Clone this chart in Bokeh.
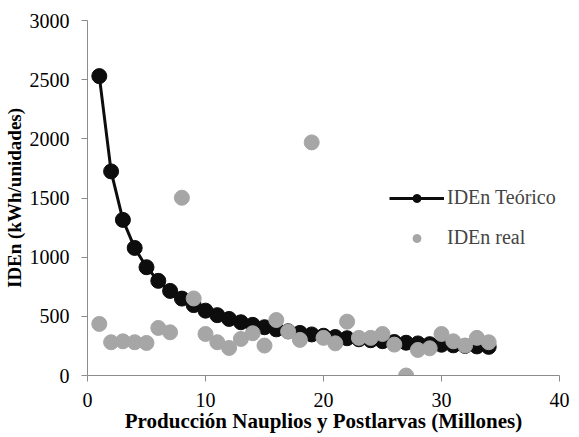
from bokeh.plotting import figure
from bokeh.models import Legend, LegendItem, Range1d, FixedTicker
from bokeh.embed import file_html
from bokeh.resources import INLINE

x_prod = list(range(1, 35))
iden_teorico = [2530, 1725, 1315, 1078, 915, 800, 715, 650, 595, 548,
                510, 478, 450, 428, 408, 390, 374, 360, 347, 336,
                325, 315, 306, 298, 290, 283, 277, 271, 265, 260,
                255, 250, 246, 242]
iden_real = [436, 281, 289, 281, 275, 402, 365, 1502, 651, 351,
             281, 233, 309, 357, 253, 469, 371, 301, 1970, 318,
             272, 455, 318, 318, 351, 261, 0, 216, 230, 351,
             289, 253, 318, 281]
x_ticks = [0, 10, 20, 30, 40]
y_ticks = [0, 500, 1000, 1500, 2000, 2500, 3000]

FONT = "Liberation Serif"
AXIS_COLOR = "#8c8c8c"

p = figure(width=571, height=437, output_backend="svg", toolbar_location=None,
           x_range=Range1d(0, 40), y_range=Range1d(0, 3000),
           min_border_left=82, min_border_right=12, min_border_top=20, min_border_bottom=62)
p.outline_line_color = None
p.xgrid.visible = False
p.ygrid.visible = False

l1 = p.line(x_prod, iden_teorico, line_color="#0d0d0d", line_width=3)
s1 = p.scatter(x_prod, iden_teorico, size=15, fill_color="#0d0d0d", line_color="#0d0d0d")
s2 = p.scatter(x_prod, iden_real, size=15, fill_color="#a6a6a6", line_color="#a6a6a6")

for ax in (p.xaxis[0], p.yaxis[0]):
    ax.axis_line_color = AXIS_COLOR
    ax.major_tick_line_color = AXIS_COLOR
    ax.minor_tick_line_color = None
    ax.major_tick_in = 0
    ax.major_tick_out = 6
    ax.major_label_text_font = FONT
    ax.major_label_text_font_size = "20px"
    ax.major_label_text_color = "#000000"
    ax.axis_label_text_font = FONT
    ax.axis_label_text_font_style = "bold"
    ax.axis_label_text_color = "#000000"

p.xaxis.axis_label_text_font_size = "21px"
p.yaxis.axis_label_text_font_size = "19px"
p.xaxis.ticker = FixedTicker(ticks=x_ticks)
p.yaxis.ticker = FixedTicker(ticks=y_ticks)
p.xaxis.axis_label = "Producción Nauplios y Postlarvas (Millones)"
p.yaxis.axis_label = "IDEn (kWh/unidades)"
p.xaxis.major_label_standoff = 11
p.xaxis.axis_label_standoff = -1
p.yaxis.major_label_standoff = 12
p.yaxis.axis_label_standoff = 2

legend = Legend(items=[LegendItem(label="IDEn Teórico", renderers=[l1, s1]),
                       LegendItem(label="IDEn real", renderers=[s2])],
                location=(302, 126), border_line_color=None,
                background_fill_alpha=0,
                label_text_font=FONT, label_text_font_size="20px",
                glyph_width=55, glyph_height=20, spacing=17, label_standoff=3,
                padding=0, margin=0)
p.add_layout(legend)

open("out.html", "w").write(file_html(p, INLINE))
